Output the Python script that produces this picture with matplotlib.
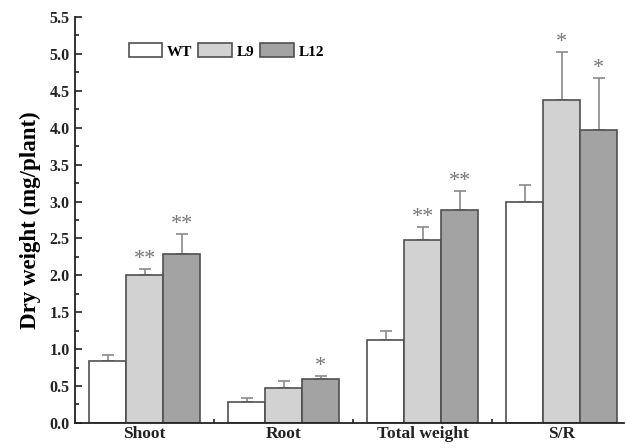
import numpy as np
import matplotlib
matplotlib.use("Agg")
import matplotlib.pyplot as plt
from matplotlib.ticker import MultipleLocator, FixedLocator

plt.rcParams["font.family"] = ["Liberation Serif", "DejaVu Serif"]
plt.rcParams["font.weight"] = "bold"

categories = ["Shoot", "Root", "Total weight", "S/R"]
lines = ["WT", "L9", "L12"]
wt = [0.84, 0.29, 1.12, 2.99]
wt_err = [0.08, 0.05, 0.13, 0.24]
l9 = [2.01, 0.47, 2.48, 4.38]
l9_err = [0.08, 0.10, 0.17, 0.65]
l12 = [2.29, 0.59, 2.89, 3.97]
l12_err = [0.27, 0.05, 0.25, 0.71]
l9_sig = ["**", "", "**", "*"]
l12_sig = ["**", "*", "**", "*"]

colors = ["white", "#d2d2d2", "#a3a3a3"]
edge = "#505050"
errc = "#8a8a8a"

fig = plt.figure(figsize=(6.26, 4.48), dpi=100)
ax = fig.add_axes([0.12, 0.056, 0.877, 0.906])

x = np.arange(len(categories))
w = 0.8 / 3
series = [(wt, wt_err, None), (l9, l9_err, l9_sig), (l12, l12_err, l12_sig)]
for i, (vals, errs, sig) in enumerate(series):
    pos = x + (i - 1) * w
    ax.bar(pos, vals, w, color=colors[i], edgecolor=edge, linewidth=1.2, label=lines[i], zorder=2)
    ax.errorbar(pos, vals, yerr=[np.zeros(len(vals)), errs], fmt="none", ecolor=errc,
                elinewidth=1.2, capsize=4, capthick=1.2, zorder=1)
    if sig:
        for p, v, e, s in zip(pos, vals, errs, sig):
            if s:
                ax.text(p, v + e + 0.0, s, ha="center", va="bottom", color="#777777",
                        fontsize=16, fontweight="normal")

ax.set_xlim(-0.5, 3.45)
ax.set_ylim(0, 5.5)
ax.yaxis.set_minor_locator(MultipleLocator(0.25))
ax.set_yticks(np.arange(0, 5.51, 0.5))
ax.set_yticklabels(["%.1f" % v for v in np.arange(0, 5.51, 0.5)])
ax.set_xticks(x)
ax.set_xticklabels(categories)
ax.xaxis.set_minor_locator(FixedLocator(x[:-1] + 0.5))
ax.tick_params(axis="both", which="both", direction="in", width=1.2, colors="#222222")
ax.tick_params(axis="both", which="major", length=5, labelsize=11.5, pad=4)
ax.tick_params(axis="both", which="minor", length=3)
for lab in ax.get_xticklabels() + ax.get_yticklabels():
    lab.set_fontweight("bold")
ax.tick_params(axis="x", labelsize=12.5, pad=2)

ax.spines["top"].set_visible(False)
ax.spines["right"].set_visible(False)
for s in ["left", "bottom"]:
    ax.spines[s].set_linewidth(1.3)
    ax.spines[s].set_color("#222222")

ax.set_ylabel("Dry weight (mg/plant)", fontsize=16.5, fontweight="bold", labelpad=6)

ax.legend(loc="upper left", bbox_to_anchor=(0.075, 0.965), ncol=3, frameon=False,
          handlelength=2.2, handleheight=1.0, columnspacing=0.4, handletextpad=0.3,
          borderpad=0.3, prop={"weight": "bold", "size": 11})

fig.savefig("out.png", dpi=100)
